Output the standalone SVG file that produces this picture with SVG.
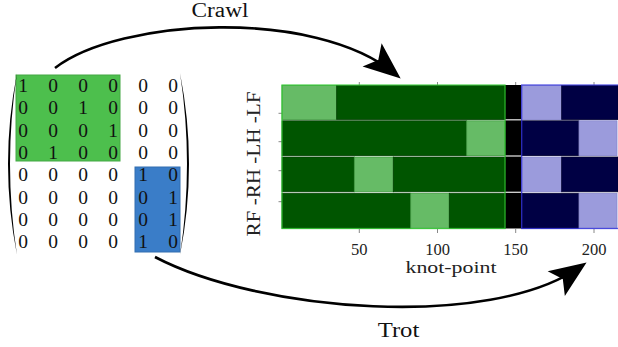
<svg xmlns="http://www.w3.org/2000/svg" width="618" height="347" viewBox="0 0 618 347">
<defs>
<style>
.d{font-family:"Liberation Serif","DejaVu Serif",serif;font-size:19.5px;fill:#111;text-anchor:middle}
.t{font-family:"Liberation Serif","DejaVu Serif",serif;font-size:16.5px;fill:#222;text-anchor:middle}
.lbl{font-family:"Liberation Serif","DejaVu Serif",serif;font-size:20px;fill:#111;text-anchor:middle}
.dg{fill:#005500;stroke:#004000;stroke-width:0.8}
.lg{fill:#66bb66;stroke:#3f9a3f;stroke-width:0.8}
.db{fill:#000044;stroke:#000030;stroke-width:0.8}
.lb{fill:#9b9bdc;stroke:#8585cc;stroke-width:0.8}
.tk{stroke:#888;stroke-width:1}
.arc{fill:none;stroke:#000;stroke-width:2.6}
</style>
<marker id="ah" markerUnits="userSpaceOnUse" markerWidth="44" markerHeight="36" viewBox="-40 -18 44 36" refX="-8" refY="0" orient="auto">
<path d="M0,0 L-37,-15 L-29,0 L-37,15 Z" fill="#000"/>
</marker>
</defs>

<g id="matrix">
<rect x="16" y="75" width="104" height="86" fill="#4dbf4d" stroke="#45a845" stroke-width="1"/>
<rect x="135" y="167" width="45" height="85" fill="#3a7dc8" stroke="#336fb0" stroke-width="1"/>
<path d="M17,73 Q-1,164 17,255 Q3,164 17,73 Z" fill="#000"/>
<path d="M180,73 Q198,164 180,255 Q194,164 180,73 Z" fill="#000"/>
<g class="d">
<text x="23" y="92">1</text><text x="53" y="92">0</text><text x="83" y="92">0</text><text x="113" y="92">0</text><text x="143" y="92">0</text><text x="173" y="92">0</text>
<text x="23" y="114.3">0</text><text x="53" y="114.3">0</text><text x="83" y="114.3">1</text><text x="113" y="114.3">0</text><text x="143" y="114.3">0</text><text x="173" y="114.3">0</text>
<text x="23" y="136.6">0</text><text x="53" y="136.6">0</text><text x="83" y="136.6">0</text><text x="113" y="136.6">1</text><text x="143" y="136.6">0</text><text x="173" y="136.6">0</text>
<text x="23" y="158.9">0</text><text x="53" y="158.9">1</text><text x="83" y="158.9">0</text><text x="113" y="158.9">0</text><text x="143" y="158.9">0</text><text x="173" y="158.9">0</text>
<text x="23" y="181.2">0</text><text x="53" y="181.2">0</text><text x="83" y="181.2">0</text><text x="113" y="181.2">0</text><text x="143" y="181.2">1</text><text x="173" y="181.2">0</text>
<text x="23" y="203.5">0</text><text x="53" y="203.5">0</text><text x="83" y="203.5">0</text><text x="113" y="203.5">0</text><text x="143" y="203.5">0</text><text x="173" y="203.5">1</text>
<text x="23" y="225.8">0</text><text x="53" y="225.8">0</text><text x="83" y="225.8">0</text><text x="113" y="225.8">0</text><text x="143" y="225.8">0</text><text x="173" y="225.8">1</text>
<text x="23" y="248">0</text><text x="53" y="248">0</text><text x="83" y="248">0</text><text x="113" y="248">0</text><text x="143" y="248">1</text><text x="173" y="248">0</text>
</g>
</g>

<g id="chart">
<g class="tk">
<line x1="359.3" y1="82" x2="359.3" y2="85"/><line x1="437.5" y1="82" x2="437.5" y2="85"/><line x1="515.7" y1="82" x2="515.7" y2="85"/><line x1="594" y1="82" x2="594" y2="85"/>
<line x1="359.3" y1="229" x2="359.3" y2="233"/><line x1="437.5" y1="229" x2="437.5" y2="233"/><line x1="515.7" y1="229" x2="515.7" y2="233"/><line x1="594" y1="229" x2="594" y2="233"/>
<line x1="278.5" y1="113.3" x2="282" y2="113.3"/><line x1="278.5" y1="141.7" x2="282" y2="141.7"/><line x1="278.5" y1="170.7" x2="282" y2="170.7"/><line x1="278.5" y1="201.7" x2="282" y2="201.7"/>
</g>
<rect x="505" y="85" width="16.7" height="143.5" fill="#000"/>
<g stroke="#d8d8d8" stroke-width="1.3">
<line x1="505" y1="119.8" x2="521.7" y2="119.8"/><line x1="505" y1="156" x2="521.7" y2="156"/><line x1="505" y1="192.3" x2="521.7" y2="192.3"/>
</g>
<!-- row 1 -->
<rect class="lg" x="282" y="85.5" width="54.7" height="34"/>
<rect class="dg" x="336.7" y="85.5" width="168.3" height="34"/>
<rect class="lb" x="521.7" y="85.5" width="40" height="34"/>
<rect class="db" x="561.7" y="85.5" width="56.3" height="34"/>
<!-- row 2 -->
<rect class="dg" x="282" y="120.8" width="184.7" height="34.8"/>
<rect class="lg" x="466.7" y="120.8" width="38.3" height="34.8"/>
<rect class="db" x="521.7" y="120.8" width="57.3" height="34.8"/>
<rect class="lb" x="579" y="120.8" width="38" height="34.8"/>
<!-- row 3 -->
<rect class="dg" x="282" y="157" width="72.3" height="34.8"/>
<rect class="lg" x="354.3" y="157" width="39" height="34.8"/>
<rect class="dg" x="393.3" y="157" width="111.7" height="34.8"/>
<rect class="lb" x="521.7" y="157" width="40" height="34.8"/>
<rect class="db" x="561.7" y="157" width="56.3" height="34.8"/>
<!-- row 4 -->
<rect class="dg" x="282" y="193.3" width="128.7" height="35"/>
<rect class="lg" x="410.7" y="193.3" width="38.6" height="35"/>
<rect class="dg" x="449.3" y="193.3" width="55.7" height="35"/>
<rect class="db" x="521.7" y="193.3" width="57.3" height="35"/>
<rect class="lb" x="579" y="193.3" width="38" height="35"/>
<rect x="282" y="85" width="223" height="143.5" fill="none" stroke="#33cc33" stroke-width="1.3" opacity="0.8"/>
<rect x="521.7" y="85" width="97" height="143.5" fill="none" stroke="#3333dd" stroke-width="1.3" opacity="0.8"/>
<g class="t">
<text x="359.3" y="254.5">50</text><text x="437.5" y="254.5">100</text><text x="515.7" y="254.5">150</text><text x="594" y="254.5">200</text>
<text x="451" y="272.5" textLength="91" lengthAdjust="spacingAndGlyphs" style="font-size:16px">knot-point</text>
<text transform="translate(260,164) rotate(-90)" textLength="145" lengthAdjust="spacingAndGlyphs" style="font-size:19px">RF -RH -LH -LF</text>
</g>
</g>

<g id="connectors">
<path class="arc" d="M55,68 C120,18 315,8 394.5,73.3" marker-end="url(#ah)"/>
<path class="arc" d="M155,257 C260,312 490,330 580,267" marker-end="url(#ah)"/>
<text class="lbl" x="220" y="16.7" textLength="57" lengthAdjust="spacingAndGlyphs">Crawl</text>
<text class="lbl" x="398.5" y="336.7" textLength="41.6" lengthAdjust="spacingAndGlyphs">Trot</text>
</g>
</svg>
